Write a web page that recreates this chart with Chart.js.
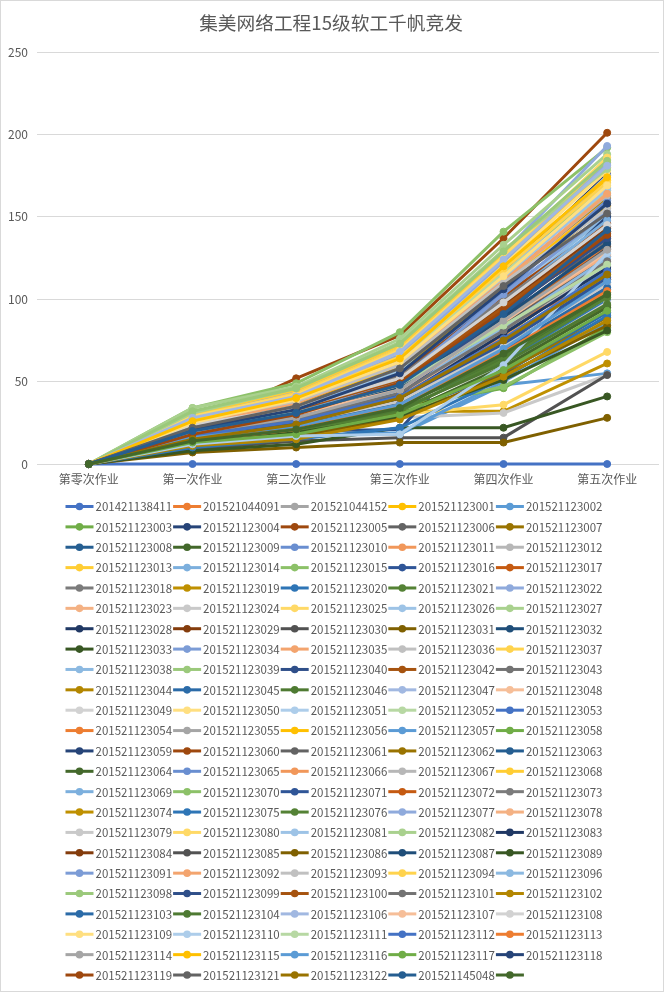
<!DOCTYPE html>
<html>
<head>
<meta charset="utf-8">
<script src="https://cdn.jsdelivr.net/npm/chart.js@4.4.1/dist/chart.umd.min.js"></script>
<style>
html,body{margin:0;padding:0;background:#ffffff;}
#wrap{width:664px;height:992px;}
</style>
</head>
<body>
<div id="wrap"><canvas id="c" width="664" height="992"></canvas></div>
<script>
// ---------- data ----------
const chartTitle = '集美网络工程15级软工千帆竞发';
const categories = ['第零次作业', '第一次作业', '第二次作业', '第三次作业', '第四次作业', '第五次作业'];
const yTicks = [0, 50, 100, 150, 200, 250];

const seriesNames = [
  '201421138411','201521044091','201521044152','201521123001','201521123002',
  '201521123003','201521123004','201521123005','201521123006','201521123007',
  '201521123008','201521123009','201521123010','201521123011','201521123012',
  '201521123013','201521123014','201521123015','201521123016','201521123017',
  '201521123018','201521123019','201521123020','201521123021','201521123022',
  '201521123023','201521123024','201521123025','201521123026','201521123027',
  '201521123028','201521123029','201521123030','201521123031','201521123032',
  '201521123033','201521123034','201521123035','201521123036','201521123037',
  '201521123038','201521123039','201521123040','201521123042','201521123043',
  '201521123044','201521123045','201521123046','201521123047','201521123048',
  '201521123049','201521123050','201521123051','201521123052','201521123053',
  '201521123054','201521123055','201521123056','201521123057','201521123058',
  '201521123059','201521123060','201521123061','201521123062','201521123063',
  '201521123064','201521123065','201521123066','201521123067','201521123068',
  '201521123069','201521123070','201521123071','201521123072','201521123073',
  '201521123074','201521123075','201521123076','201521123077','201521123078',
  '201521123079','201521123080','201521123081','201521123082','201521123083',
  '201521123084','201521123085','201521123086','201521123087','201521123089',
  '201521123091','201521123092','201521123093','201521123094','201521123096',
  '201521123098','201521123099','201521123100','201521123101','201521123102',
  '201521123103','201521123104','201521123106','201521123107','201521123108',
  '201521123109','201521123110','201521123111','201521123112','201521123113',
  '201521123114','201521123115','201521123116','201521123117','201521123118',
  '201521123119','201521123121','201521123122','201521145048',''
];

// cumulative scores per student: 第零 .. 第五次作业
const scores = [
  [0,0,0,0,0,0],
  [0,18,30,45,88,132],
  [0,22,35,58,104,150],
  [0,25,40,66,118,172],
  [0,12,18,18,48,55],
  [0,15,24,38,72,118],
  [0,17,27,45,96,148],
  [0,23,52,78,137,201],
  [0,16,26,42,84,126],
  [0,10,16,30,58,96],
  [0,14,22,36,70,112],
  [0,11,17,33,64,102],
  [0,20,31,52,98,142],
  [0,19,33,50,92,137],
  [0,21,34,55,106,158],
  [0,27,42,68,122,180],
  [0,24,36,61,114,166],
  [0,34,49,80,141,192],
  [0,13,21,35,66,108],
  [0,18,29,47,90,130],
  [0,20,33,57,103,152],
  [0,14,22,32,32,61],
  [0,12,19,34,62,99],
  [0,15,25,40,78,122],
  [0,30,44,70,128,193],
  [0,22,36,59,110,161],
  [0,13,20,28,31,54],
  [0,16,24,30,36,68],
  [0,26,39,64,117,170],
  [0,34,47,76,133,188],
  [0,20,33,60,116,176],
  [0,21,32,50,95,140],
  [0,9,14,16,16,54],
  [0,7,10,13,13,28],
  [0,15,23,37,69,110],
  [0,8,12,22,22,41],
  [0,19,30,48,94,144],
  [0,23,37,60,108,157],
  [0,17,26,43,80,120],
  [0,28,43,70,125,183],
  [0,21,31,49,100,151],
  [0,29,41,66,119,168],
  [0,13,20,21,90,141],
  [0,20,31,47,86,128],
  [0,18,28,46,88,135],
  [0,24,38,62,112,162],
  [0,11,18,31,55,92],
  [0,13,20,34,65,104],
  [0,25,37,61,115,175],
  [0,19,28,42,82,124],
  [0,15,22,34,60,98],
  [0,26,41,67,121,178],
  [0,22,33,53,101,154],
  [0,28,40,63,116,165],
  [0,16,25,39,74,116],
  [0,17,27,44,84,112],
  [0,20,30,48,93,139],
  [0,23,37,58,109,159],
  [0,12,17,19,50,86],
  [0,14,22,35,46,83],
  [0,18,28,46,91,150],
  [0,21,34,54,102,146],
  [0,19,29,49,96,133],
  [0,13,19,31,56,89],
  [0,16,24,37,72,106],
  [0,12,19,30,59,95],
  [0,22,34,56,104,160],
  [0,17,26,41,77,114],
  [0,25,38,63,111,163],
  [0,30,45,72,127,185],
  [0,18,27,45,99,148],
  [0,16,23,33,47,80],
  [0,15,23,39,73,113],
  [0,19,31,50,94,138],
  [0,21,33,53,100,144],
  [0,24,36,57,107,156],
  [0,10,15,22,52,90],
  [0,14,20,32,63,101],
  [0,27,40,66,123,182],
  [0,20,30,47,87,127],
  [0,18,25,38,71,109],
  [0,29,42,69,126,186],
  [0,23,35,57,113,167],
  [0,31,46,74,130,179],
  [0,17,25,40,79,119],
  [0,20,32,52,97,143],
  [0,15,24,44,85,131],
  [0,12,17,28,54,84],
  [0,19,29,46,89,134],
  [0,13,19,29,51,81],
  [0,21,32,51,103,153],
  [0,24,37,61,111,164],
  [0,26,38,60,110,155],
  [0,27,41,65,118,171],
  [0,19,28,44,83,125],
  [0,32,46,73,129,184],
  [0,16,25,42,92,137],
  [0,22,33,51,95,141],
  [0,18,27,43,81,123],
  [0,11,15,27,53,87],
  [0,13,22,36,69,107],
  [0,15,21,33,61,97],
  [0,28,41,68,124,181],
  [0,21,30,45,86,129],
  [0,24,34,52,98,145],
  [0,25,39,62,114,169],
  [0,12,17,18,60,128],
  [0,22,31,48,84,121],
  [0,17,26,41,76,117],
  [0,14,21,36,68,105],
  [0,19,28,45,87,130],
  [0,26,40,64,120,174],
  [0,16,23,36,70,111],
  [0,13,18,30,57,93],
  [0,21,33,55,106,158],
  [0,18,30,49,93,139],
  [0,22,35,58,108,152],
  [0,15,24,40,75,115],
  [0,20,31,48,91,142],
  [0,14,21,34,67,103]
];

// ---------- style ----------
const palette = [
  '#4472C4','#ED7D31','#A5A5A5','#FFC000','#5B9BD5','#70AD47',
  '#264478','#9E480E','#636363','#997300','#255E91','#43682B',
  '#698ED0','#F1975A','#B7B7B7','#FFCD33','#7CAFDD','#8CC168',
  '#2F5597','#C55A11','#7B7B7B','#BF9000','#2E75B6','#548235',
  '#8FAADC','#F4B183','#C9C9C9','#FFD966','#9DC3E6','#A9D18E',
  '#203864','#843C0C','#525252','#7F6000','#1F4E79','#385723',
  '#7C9CD6','#F3A46E','#C0C0C0','#FFD34D','#8CB9E1','#9BC97B',
  '#2F4F89','#A6530F','#737373','#B38600','#2B6BA8','#4E7A32',
  '#A1B8E1','#F6BE98','#D2D2D2','#FFDF80','#ADCDEA','#B7D8A3'
];
const textColor = '#595959';
const gridColor = '#D9D9D9';
const fontFamily = '"Noto Sans CJK SC", "Liberation Sans", sans-serif';

// Excel-like legend grid (5 columns) drawn under the plot
const excelLegend = {
  id: 'excelLegend',
  afterDraw(chart) {
    const ctx = chart.ctx;
    ctx.save();
    ctx.font = '11.5px ' + fontFamily;
    ctx.textBaseline = 'middle';
    ctx.textAlign = 'left';
    chart.data.datasets.forEach((ds, i) => {
      const col = i % 5, row = Math.floor(i / 5);
      const tx = 95.5 + col * 107.6;
      const y = 506.5 + row * 20.37;
      ctx.strokeStyle = ds.borderColor;
      ctx.lineWidth = 3;
      ctx.beginPath();
      ctx.moveTo(tx - 30, y);
      ctx.lineTo(tx - 2, y);
      ctx.stroke();
      ctx.fillStyle = ds.borderColor;
      ctx.beginPath();
      ctx.arc(tx - 16, y, 3.8, 0, Math.PI * 2);
      ctx.fill();
      if (ds.label) {
        ctx.fillStyle = textColor;
        ctx.fillText(ds.label, tx, y + 0.5);
      }
    });
    ctx.strokeStyle = gridColor;
    ctx.lineWidth = 1;
    ctx.strokeRect(0.5, 0.5, chart.width - 1, chart.height - 1);
    ctx.restore();
  }
};

const datasets = seriesNames.map((name, i) => {
  const c = palette[i % palette.length];
  return {
    label: name,
    data: scores[i],
    borderColor: c,
    backgroundColor: c,
    pointBackgroundColor: c,
    pointBorderColor: c,
    borderWidth: 3,
    pointRadius: 3.5,
    pointBorderWidth: 1,
    tension: 0,
    fill: false,
    clip: false,
    order: -i
  };
});

new Chart(document.getElementById('c'), {
  type: 'line',
  data: { labels: categories, datasets },
  options: {
    responsive: false,
    animation: false,
    devicePixelRatio: 1,
    layout: { padding: { left: 0, right: 2, top: 0, bottom: 497 } },
    plugins: {
      legend: { display: false },
      tooltip: { enabled: false },
      title: {
        display: true,
        text: chartTitle,
        color: textColor,
        font: { family: fontFamily, size: 18.7, weight: 'normal' },
        padding: { top: 11.5, bottom: 18.1 }
      }
    },
    scales: {
      x: {
        offset: true,
        grid: { display: false, drawTicks: false },
        border: { display: false },
        ticks: { color: textColor, font: { family: fontFamily, size: 12 }, padding: 8, maxRotation: 0, autoSkip: false },
        afterFit: s => { s.height = 31; }
      },
      y: {
        min: yTicks[0],
        max: yTicks[yTicks.length - 1],
        afterBuildTicks: s => { s.ticks = yTicks.map(v => ({ value: v })); },
        grid: { color: gridColor, lineWidth: 1, drawTicks: false },
        border: { display: false },
        ticks: { color: textColor, font: { family: fontFamily, size: 12 }, padding: 9 },
        afterFit: s => { s.width = 37; }
      }
    }
  },
  plugins: [excelLegend]
});
</script>
</body>
</html>
